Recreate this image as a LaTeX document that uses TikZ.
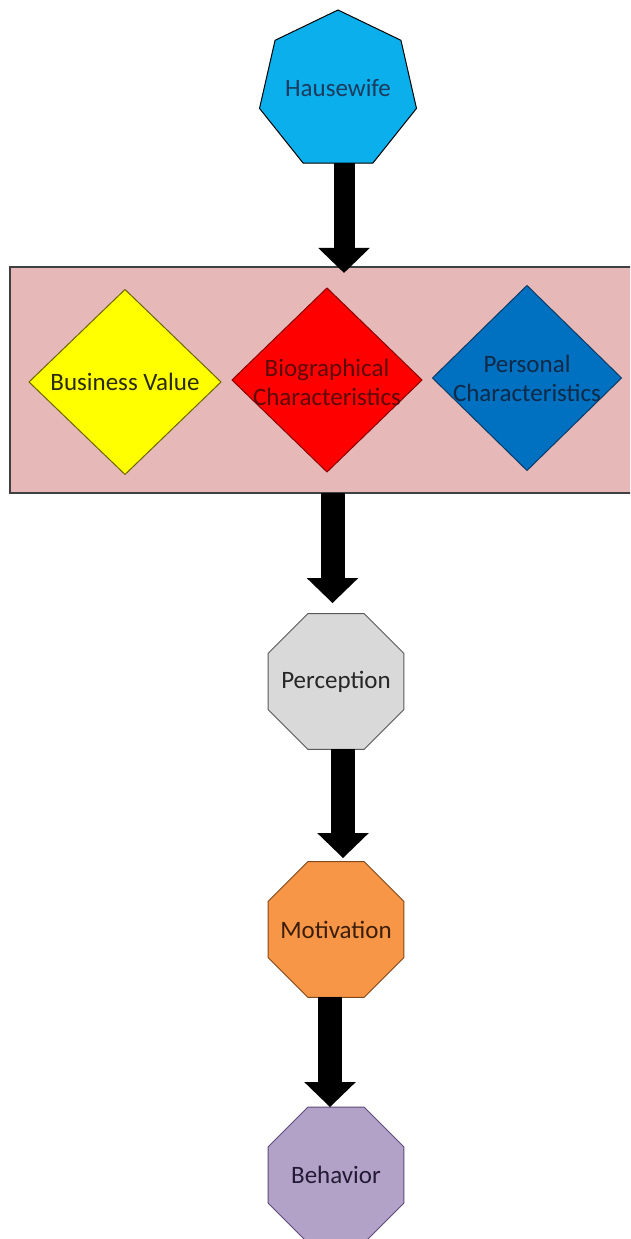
\documentclass[tikz,border=0pt]{standalone}
\usepackage{fontspec}
\setmainfont{Carlito}
\usetikzlibrary{shapes.geometric,arrows.meta,calc}
\definecolor{hwfill}{HTML}{0AAFEC}
\definecolor{hwtext}{HTML}{1C3A5C}
\definecolor{boxfill}{HTML}{E6B9B8}
\definecolor{boxline}{HTML}{404040}
\definecolor{yelfill}{HTML}{FFFF00}
\definecolor{yelline}{HTML}{6B6400}
\definecolor{yeltext}{HTML}{2A2A10}
\definecolor{redfill}{HTML}{FF0000}
\definecolor{redline}{HTML}{8B0000}
\definecolor{redtext}{HTML}{5C0A0A}
\definecolor{blufill}{HTML}{0070C0}
\definecolor{bluline}{HTML}{0A3A66}
\definecolor{blutext}{HTML}{102A48}
\definecolor{perfill}{HTML}{D9D9D9}
\definecolor{perline}{HTML}{595959}
\definecolor{pertext}{HTML}{262626}
\definecolor{motfill}{HTML}{F79646}
\definecolor{motline}{HTML}{7F4A1E}
\definecolor{mottext}{HTML}{3A1E0A}
\definecolor{behfill}{HTML}{B3A2C7}
\definecolor{behline}{HTML}{5F4B7B}
\definecolor{behtext}{HTML}{231B36}
\begin{document}
\begin{tikzpicture}[x=1pt,y=1pt,
  lbl/.style={font=\fontsize{25}{29}\selectfont, align=center, inner sep=0pt},
  shp/.style={draw, line width=1pt, inner sep=0pt, outer sep=0pt},
  octo/.style={shp, regular polygon, regular polygon sides=8, minimum size=147pt},
  dia/.style={shp, diamond},
  barrow/.style={line width=24pt, -{Triangle[width=50pt,length=25pt]}}
]
\useasboundingbox (0,0) rectangle (630,1239);
\fill[white] (0,0) rectangle (630,1239);

% top heptagon
\node[shp, regular polygon, regular polygon sides=7, minimum size=161pt,
      fill=hwfill, draw=black,
      label={[lbl, text=hwtext, yshift=2pt]center:Hausewife}] (hw) at (338,1148.5) {};

% group box (its right side runs off the picture)
\begin{scope}
\clip (0,0) rectangle (630,1239);
\node[draw=boxline, line width=1.5pt, fill=boxfill, rectangle,
      minimum width=700pt, minimum height=226pt, inner sep=0pt, outer sep=0pt]
      (grp) at (360,859) {};
\end{scope}

% diamonds
\node[dia, fill=yelfill, draw=yelline, minimum width=192pt, minimum height=185pt,
      label={[lbl, text=yeltext]center:Business Value}] (bv) at (125,857) {};
\node[dia, fill=redfill, draw=redline, minimum width=190pt, minimum height=184pt,
      label={[lbl, text=redtext, yshift=-2pt]center:Biographical\\Characteristics}] (bio) at (327,859) {};
\node[dia, fill=blufill, draw=bluline, minimum width=189pt, minimum height=185pt,
      label={[lbl, text=blutext]center:Personal\\Characteristics}] (pc) at (527,861) {};

% octagons
\node[octo, fill=perfill, draw=perline,
      label={[lbl, text=pertext]center:Perception}] (per) at (336,557.5) {};
\node[octo, fill=motfill, draw=motline,
      label={[lbl, text=mottext]center:Motivation}] (mot) at (336,309.5) {};
\node[octo, fill=behfill, draw=behline,
      label={[lbl, text=behtext]center:Behavior}] (beh) at (336,64) {};

% block arrows
\draw[barrow, line width=21pt] ($(hw.south)+(6,0)$) -- ($(hw.south |- grp.north)+(6,-6)$);
\draw[barrow] ($(per.north |- grp.south)+(-3.5,0)$) -- ($(per.north)+(-3.5,10.5)$);
\draw[barrow] ($(per.south)+(7,0)$) -- ($(mot.north)+(7,3.5)$);
\draw[barrow] ($(mot.south)+(-6,0)$) -- ($(beh.north)+(-6,0)$);
\end{tikzpicture}
\end{document}
